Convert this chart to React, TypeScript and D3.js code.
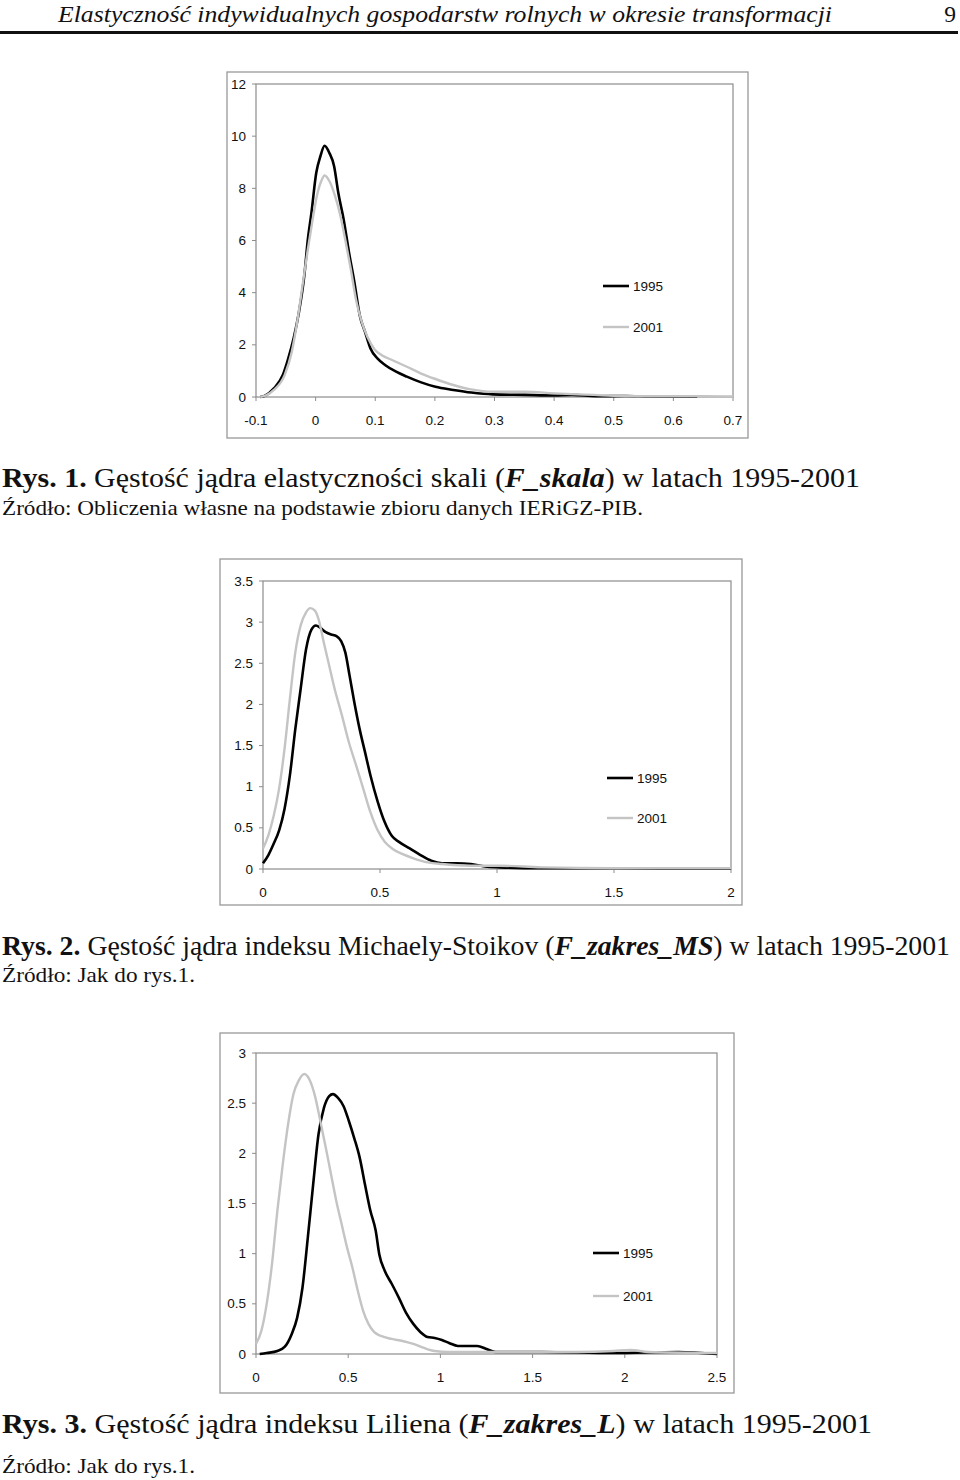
import React from "react";
import * as d3 from "d3";

// ---------- DATA ----------
const header = "Elastyczność indywidualnych gospodarstw rolnych w okresie transformacji";
const pageNo = "9";
const seriesNames = ["1995", "2001"];

// Chart 1: F_skala
const skalaXTicks = [-0.1, 0, 0.1, 0.2, 0.3, 0.4, 0.5, 0.6, 0.7];
const skalaYTicks = [0, 2, 4, 6, 8, 10, 12];
const skala1995: [number, number][] = [
  [-0.093, 0], [-0.085, 0.05], [-0.07, 0.33], [-0.055, 0.84], [-0.046, 1.47], [-0.037, 2.24],
  [-0.028, 3.25], [-0.019, 4.65], [-0.013, 6.05], [-0.007, 7.07], [0.001, 8.59], [0.008, 9.23],
  [0.015, 9.63], [0.023, 9.36], [0.031, 8.85], [0.038, 7.83], [0.047, 6.81], [0.056, 5.54],
  [0.065, 4.4], [0.074, 3.13], [0.083, 2.49], [0.092, 1.86], [0.104, 1.47], [0.117, 1.22],
  [0.135, 0.97], [0.153, 0.78], [0.177, 0.56], [0.201, 0.39], [0.231, 0.27], [0.261, 0.17],
  [0.297, 0.1], [0.351, 0.08], [0.4, 0.06], [0.43, 0.08], [0.47, 0.03], [0.52, 0.04],
  [0.56, 0.02], [0.64, 0.01],
];
const skala2001: [number, number][] = [
  [-0.093, 0], [-0.085, 0.04], [-0.07, 0.27], [-0.052, 0.84], [-0.04, 1.73], [-0.031, 2.87],
  [-0.022, 4.27], [-0.013, 5.67], [-0.005, 6.81], [0.002, 7.7], [0.0095, 8.28], [0.015, 8.49],
  [0.023, 8.28], [0.032, 7.75], [0.041, 7.0], [0.05, 6.0], [0.059, 4.9], [0.068, 3.7],
  [0.077, 2.9], [0.087, 2.3], [0.099, 1.82], [0.111, 1.6], [0.129, 1.41], [0.153, 1.16],
  [0.177, 0.9], [0.201, 0.69], [0.231, 0.46], [0.261, 0.29], [0.297, 0.2], [0.351, 0.2],
  [0.4, 0.14], [0.44, 0.1], [0.5, 0.05], [0.58, 0.03], [0.65, 0.03], [0.7, 0.02],
];

// Chart 2: F_zakres_MS
const msXTicks = [0, 0.5, 1, 1.5, 2];
const msYTicks = [0, 0.5, 1, 1.5, 2, 2.5, 3, 3.5];
const ms1995: [number, number][] = [
  [0, 0.07], [0.023, 0.17], [0.046, 0.31], [0.069, 0.47], [0.092, 0.73], [0.115, 1.14],
  [0.138, 1.7], [0.161, 2.19], [0.184, 2.67], [0.207, 2.91], [0.226, 2.96], [0.245, 2.93],
  [0.268, 2.88], [0.291, 2.85], [0.314, 2.83], [0.334, 2.77], [0.352, 2.63], [0.37, 2.35],
  [0.39, 2.03], [0.413, 1.7], [0.436, 1.42], [0.459, 1.14], [0.49, 0.82], [0.52, 0.57],
  [0.551, 0.4], [0.581, 0.33], [0.627, 0.25], [0.673, 0.17], [0.719, 0.1], [0.765, 0.07],
  [0.826, 0.07], [0.888, 0.06], [0.949, 0.03], [1.01, 0.02], [1.19, 0.01], [1.4, 0.01],
  [1.7, 0.005], [2, 0.005],
];
const ms2001: [number, number][] = [
  [0, 0.25], [0.023, 0.41], [0.046, 0.65], [0.069, 0.98], [0.092, 1.46], [0.115, 2.07],
  [0.138, 2.63], [0.161, 2.96], [0.184, 3.12], [0.202, 3.17], [0.222, 3.14], [0.237, 3.04],
  [0.26, 2.75], [0.283, 2.47], [0.306, 2.19], [0.337, 1.87], [0.367, 1.54], [0.398, 1.26],
  [0.428, 0.98], [0.459, 0.69], [0.49, 0.47], [0.52, 0.33], [0.551, 0.25], [0.597, 0.18],
  [0.643, 0.13], [0.704, 0.08], [0.765, 0.06], [0.888, 0.04], [1.01, 0.04], [1.19, 0.02],
  [1.5, 0.01], [2, 0.01],
];

// Chart 3: F_zakres_L
const lXTicks = [0, 0.5, 1, 1.5, 2, 2.5];
const lYTicks = [0, 0.5, 1, 1.5, 2, 2.5, 3];
const l1995: [number, number][] = [
  [0.02, 0], [0.058, 0.01], [0.116, 0.03], [0.155, 0.07], [0.194, 0.2], [0.223, 0.36],
  [0.252, 0.66], [0.281, 1.16], [0.31, 1.69], [0.339, 2.19], [0.368, 2.45], [0.397, 2.57],
  [0.417, 2.59], [0.446, 2.55], [0.475, 2.47], [0.504, 2.32], [0.533, 2.15], [0.562, 1.96],
  [0.591, 1.69], [0.62, 1.43], [0.649, 1.23], [0.669, 0.99], [0.698, 0.83], [0.736, 0.7],
  [0.775, 0.56], [0.814, 0.41], [0.853, 0.3], [0.891, 0.22], [0.93, 0.17], [0.969, 0.16],
  [1.008, 0.14], [1.047, 0.11], [1.095, 0.08], [1.2, 0.08], [1.25, 0.05], [1.3, 0.02],
  [1.55, 0.02], [1.94, 0.01], [2.29, 0.02], [2.5, 0],
];
const l2001: [number, number][] = [
  [0, 0.1], [0.029, 0.23], [0.058, 0.5], [0.087, 0.9], [0.116, 1.43], [0.145, 1.89],
  [0.174, 2.29], [0.203, 2.59], [0.233, 2.73], [0.262, 2.79], [0.291, 2.73], [0.32, 2.57],
  [0.349, 2.32], [0.378, 2.06], [0.407, 1.79], [0.436, 1.52], [0.465, 1.29], [0.494, 1.06],
  [0.523, 0.86], [0.552, 0.63], [0.581, 0.43], [0.61, 0.3], [0.64, 0.22], [0.678, 0.18],
  [0.736, 0.15], [0.795, 0.13], [0.853, 0.1], [0.911, 0.06], [0.969, 0.03], [1.047, 0.02],
  [1.74, 0.02], [1.94, 0.03], [2.03, 0.04], [2.13, 0.02], [2.5, 0.01],
];

// ---------- COMPONENTS ----------
const GRAY = "#c4c4c4";
const AXIS = "#8c8c8c";
const SANS = "'Liberation Sans', Arial, Helvetica, sans-serif";
const SERIF = "'Liberation Serif', 'Times New Roman', serif";
const TICK_FS = 13.5;

type ChartProps = {
  frame: [number, number, number, number];
  plot: [number, number, number, number]; // left, right, top(ymax), bottom(y0)
  xDomain: [number, number];
  yDomain: [number, number];
  xTicks: number[];
  yTicks: number[];
  s1995: [number, number][];
  s2001: [number, number][];
  legend: [number, number, number];
};

function Chart(p: ChartProps) {
  const [L, R, T, B] = p.plot;
  const x = d3.scaleLinear().domain(p.xDomain).range([L, R]);
  const y = d3.scaleLinear().domain(p.yDomain).range([B, T]);
  const line = d3
    .line<[number, number]>()
    .x((d) => x(d[0]))
    .y((d) => y(d[1]))
    .curve(d3.curveMonotoneX);
  const [fx, fy, fw, fh] = p.frame;
  const [lx, ly, lgap] = p.legend;
  return (
    <g>
      <rect x={fx} y={fy} width={fw} height={fh} fill="#fff" stroke="#999" strokeWidth={1.3} />
      <rect x={L} y={T} width={R - L} height={B - T} fill="none" stroke={AXIS} strokeWidth={1.2} />
      {p.xTicks.map((t) => (
        <g key={"x" + t}>
          <line x1={x(t)} x2={x(t)} y1={B} y2={B + 4} stroke={AXIS} strokeWidth={1} />
          <text x={x(t)} y={B + 23} textAnchor="middle" dominantBaseline="central" fontFamily={SANS} fontSize={TICK_FS} fill="#111">
            {String(t)}
          </text>
        </g>
      ))}
      {p.yTicks.map((t) => (
        <g key={"y" + t}>
          <line x1={L - 4} x2={L} y1={y(t)} y2={y(t)} stroke={AXIS} strokeWidth={1} />
          <text x={L - 10} y={y(t)} textAnchor="end" dominantBaseline="central" fontFamily={SANS} fontSize={TICK_FS} fill="#111">
            {String(t)}
          </text>
        </g>
      ))}
      <path d={line(p.s1995) || ""} fill="none" stroke="#000" strokeWidth={2.6} strokeLinejoin="round" />
      <path d={line(p.s2001) || ""} fill="none" stroke={GRAY} strokeWidth={2.4} strokeLinejoin="round" />
      <line x1={lx} x2={lx + 26} y1={ly} y2={ly} stroke="#000" strokeWidth={2.6} />
      <text x={lx + 30} y={ly} dominantBaseline="central" fontFamily={SANS} fontSize={TICK_FS} fill="#111">
        {seriesNames[0]}
      </text>
      <line x1={lx} x2={lx + 26} y1={ly + lgap} y2={ly + lgap} stroke={GRAY} strokeWidth={2.4} />
      <text x={lx + 30} y={ly + lgap} dominantBaseline="central" fontFamily={SANS} fontSize={TICK_FS} fill="#111">
        {seriesNames[1]}
      </text>
    </g>
  );
}

function Caption(props: { y: number; len: number; num: string; pre: string; em: string; post: string }) {
  return (
    <text x={2} y={props.y} fontFamily={SERIF} fontSize={27} fill="#111" textLength={props.len} lengthAdjust="spacingAndGlyphs">
      <tspan fontWeight="bold">{props.num}</tspan>
      <tspan>{props.pre}</tspan>
      <tspan fontWeight="bold" fontStyle="italic">{props.em}</tspan>
      <tspan>{props.post}</tspan>
    </text>
  );
}

function Source(props: { y: number; len: number; text: string }) {
  return (
    <text x={2} y={props.y} fontFamily={SERIF} fontSize={21.5} fill="#111" textLength={props.len} lengthAdjust="spacingAndGlyphs">
      {props.text}
    </text>
  );
}

export default function App() {
  return (
    <svg width={960} height={1480} viewBox="0 0 960 1480" style={{ position: "absolute", left: 0, top: 0, background: "#fff" }}>
      <rect x={0} y={0} width={960} height={1480} fill="#fff" />
      <text x={58} y={22} fontFamily={SERIF} fontStyle="italic" fontSize={23.5} fill="#111" textLength={774} lengthAdjust="spacingAndGlyphs">
        {header}
      </text>
      <text x={956} y={22} textAnchor="end" fontFamily={SERIF} fontSize={23.5} fill="#111">
        {pageNo}
      </text>
      <line x1={0} x2={958} y1={32.5} y2={32.5} stroke="#111" strokeWidth={3} />

      <Chart
        frame={[227, 72, 521, 366]}
        plot={[256, 733, 84, 397]}
        xDomain={[-0.1, 0.7]}
        yDomain={[0, 12]}
        xTicks={skalaXTicks}
        yTicks={skalaYTicks}
        s1995={skala1995}
        s2001={skala2001}
        legend={[603, 286, 41]}
      />
      <Caption y={487} len={858} num="Rys. 1." pre=" Gęstość jądra elastyczności skali (" em="F_skala" post=") w latach 1995-2001" />
      <Source y={515} len={641} text="Źródło: Obliczenia własne na podstawie zbioru danych IERiGZ-PIB." />

      <Chart
        frame={[220, 559, 522, 346]}
        plot={[263, 731, 581, 869]}
        xDomain={[0, 2]}
        yDomain={[0, 3.5]}
        xTicks={msXTicks}
        yTicks={msYTicks}
        s1995={ms1995}
        s2001={ms2001}
        legend={[607, 778, 40]}
      />
      <Caption y={955} len={948} num="Rys. 2." pre=" Gęstość jądra indeksu Michaely-Stoikov (" em="F_zakres_MS" post=") w latach 1995-2001" />
      <Source y={982} len={193} text="Źródło: Jak do rys.1." />

      <Chart
        frame={[220, 1033, 514, 360]}
        plot={[256, 717, 1053, 1354]}
        xDomain={[0, 2.5]}
        yDomain={[0, 3]}
        xTicks={lXTicks}
        yTicks={lYTicks}
        s1995={l1995}
        s2001={l2001}
        legend={[593, 1253, 43]}
      />
      <Caption y={1433} len={870} num="Rys. 3." pre=" Gęstość jądra indeksu Liliena (" em="F_zakres_L" post=") w latach 1995-2001" />
      <Source y={1473} len={193} text="Źródło: Jak do rys.1." />
    </svg>
  );
}
